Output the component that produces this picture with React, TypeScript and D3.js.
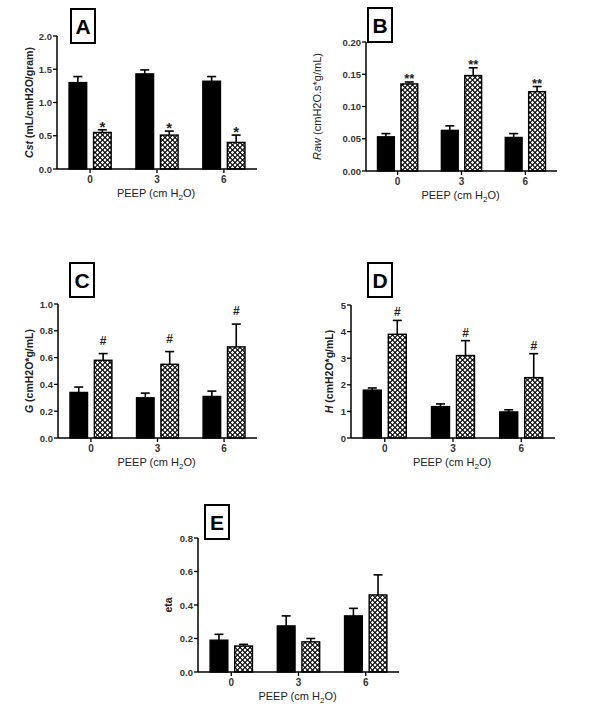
import React from 'react';
import * as d3 from 'd3';

// PEEP levels (categories)
const peep = ['0', '3', '6'];
const series = ['ctrl', 'treat'];

// A: Cst
const cstCtrl = [1.30, 1.43, 1.32];
const cstCtrlErr = [0.09, 0.06, 0.07];
const cstTreat = [0.55, 0.51, 0.40];
const cstTreatErr = [0.04, 0.06, 0.11];
const cstTicks = [0, 0.5, 1.0, 1.5, 2.0];

// B: Raw
const rawCtrl = [0.053, 0.063, 0.052];
const rawCtrlErr = [0.005, 0.007, 0.006];
const rawTreat = [0.135, 0.148, 0.123];
const rawTreatErr = [0.003, 0.012, 0.008];
const rawTicks = [0, 0.05, 0.10, 0.15, 0.20];

// C: G
const gCtrl = [0.34, 0.30, 0.31];
const gCtrlErr = [0.04, 0.035, 0.04];
const gTreat = [0.58, 0.55, 0.68];
const gTreatErr = [0.05, 0.095, 0.17];
const gTicks = [0, 0.2, 0.4, 0.6, 0.8, 1.0];

// D: H
const hCtrl = [1.80, 1.18, 0.98];
const hCtrlErr = [0.08, 0.10, 0.08];
const hTreat = [3.90, 3.10, 2.27];
const hTreatErr = [0.52, 0.56, 0.90];
const hTicks = [0, 1, 2, 3, 4, 5];

// E: eta
const etaCtrl = [0.19, 0.275, 0.335];
const etaCtrlErr = [0.035, 0.06, 0.045];
const etaTreat = [0.155, 0.18, 0.46];
const etaTreatErr = [0.01, 0.02, 0.12];
const etaTicks = [0, 0.2, 0.4, 0.6, 0.8];

const font = '"Liberation Sans", Arial, sans-serif';

type PanelCfg = {
  letter: string;
  x0: number; x1: number; yTop: number; yBot: number;
  ticks: number[]; fmt: (n: number) => string;
  ctrl: number[]; ctrlErr: number[]; treat: number[]; treatErr: number[];
  mark: string; markSize: number; markOffset: number;
  yItalic: string; yRest: string; yBold: boolean; yLabelX: number;
  boxX: number; boxY: number;
};

const panels: PanelCfg[] = [
  {
    letter: 'A', x0: 57, x1: 257, yTop: 36, yBot: 169,
    ticks: cstTicks, fmt: d3.format('.1f'),
    ctrl: cstCtrl, ctrlErr: cstCtrlErr, treat: cstTreat, treatErr: cstTreatErr,
    mark: '*', markSize: 15, markOffset: 2,
    yItalic: 'Cst', yRest: ' (mL/cmH2O/gram)', yBold: true, yLabelX: 33,
    boxX: 71, boxY: 9,
  },
  {
    letter: 'B', x0: 366, x1: 557, yTop: 42, yBot: 171,
    ticks: rawTicks, fmt: d3.format('.2f'),
    ctrl: rawCtrl, ctrlErr: rawCtrlErr, treat: rawTreat, treatErr: rawTreatErr,
    mark: '**', markSize: 13, markOffset: 1,
    yItalic: 'Raw', yRest: ' (cmH2O.s*g/mL)', yBold: false, yLabelX: 321,
    boxX: 368, boxY: 8,
  },
  {
    letter: 'C', x0: 58, x1: 257, yTop: 304, yBot: 438,
    ticks: gTicks, fmt: d3.format('.1f'),
    ctrl: gCtrl, ctrlErr: gCtrlErr, treat: gTreat, treatErr: gTreatErr,
    mark: '#', markSize: 12, markOffset: -9,
    yItalic: 'G', yRest: ' (cmH2O*g/mL)', yBold: true, yLabelX: 33,
    boxX: 70, boxY: 263,
  },
  {
    letter: 'D', x0: 351, x1: 555, yTop: 305, yBot: 438,
    ticks: hTicks, fmt: d3.format('d'),
    ctrl: hCtrl, ctrlErr: hCtrlErr, treat: hTreat, treatErr: hTreatErr,
    mark: '#', markSize: 12, markOffset: -4,
    yItalic: 'H', yRest: ' (cmH2O*g/mL)', yBold: true, yLabelX: 333,
    boxX: 368, boxY: 263,
  },
  {
    letter: 'E', x0: 198, x1: 399, yTop: 538, yBot: 672,
    ticks: etaTicks, fmt: d3.format('.1f'),
    ctrl: etaCtrl, ctrlErr: etaCtrlErr, treat: etaTreat, treatErr: etaTreatErr,
    mark: '', markSize: 11, markOffset: 0,
    yItalic: '', yRest: 'eta', yBold: true, yLabelX: 172,
    boxX: 205, boxY: 505,
  },
];

function Panel({ p }: { p: PanelCfg }) {
  const x = d3.scaleBand().domain(peep).range([p.x0, p.x1]).paddingInner(0.37).paddingOuter(0.18);
  const inner = d3.scaleBand().domain(series).range([0, x.bandwidth()]).paddingInner(0.28);
  const y = d3.scaleLinear().domain([0, p.ticks[p.ticks.length - 1]]).range([p.yBot, p.yTop]);
  const bw = inner.bandwidth();
  const cap = 4.5;

  const bars = peep.flatMap((g, i) => [
    { g, s: 'ctrl', v: p.ctrl[i], e: p.ctrlErr[i] },
    { g, s: 'treat', v: p.treat[i], e: p.treatErr[i] },
  ]);

  const midY = (p.yTop + p.yBot) / 2;

  return (
    <g>
      {/* letter box */}
      <rect x={p.boxX} y={p.boxY} width={24} height={34} fill="#fff" stroke="#000" strokeWidth={2} />
      <text x={p.boxX + 12} y={p.boxY + 25} textAnchor="middle" fontFamily={font}
        fontWeight="bold" fontSize={21}>{p.letter}</text>

      {/* bars + error bars */}
      {bars.map((b, k) => {
        const bx = (x(b.g) as number) + (inner(b.s) as number);
        const cx = bx + bw / 2;
        return (
          <g key={k}>
            <line x1={cx} x2={cx} y1={y(b.v)} y2={y(b.v + b.e)} stroke="#000" strokeWidth={1.6} />
            <line x1={cx - cap} x2={cx + cap} y1={y(b.v + b.e)} y2={y(b.v + b.e)} stroke="#000" strokeWidth={1.6} />
            <rect x={bx} y={y(b.v)} width={bw} height={p.yBot - y(b.v)}
              fill={b.s === 'ctrl' ? '#000' : 'url(#hatch)'} stroke="#000" strokeWidth={1.4} />
            {b.s === 'treat' && p.mark && (
              <text x={cx} y={y(b.v + b.e) + p.markOffset} textAnchor="middle" fontFamily={font}
                fontWeight="bold" fontSize={p.markSize} fill="#222">{p.mark}</text>
            )}
          </g>
        );
      })}

      {/* y axis */}
      <line x1={p.x0} x2={p.x0} y1={p.yTop} y2={p.yBot} stroke="#000" strokeWidth={1.5} />
      {p.ticks.map((t) => (
        <g key={t}>
          <line x1={p.x0 - 4} x2={p.x0} y1={y(t)} y2={y(t)} stroke="#000" strokeWidth={1.3} />
          <text x={p.x0 - 5} y={y(t) + 3.5} textAnchor="end" fontFamily={font} fontWeight="bold"
            fontSize={9.5} fill="#333">{p.fmt(t)}</text>
        </g>
      ))}

      {/* x axis */}
      <line x1={p.x0} x2={p.x1} y1={p.yBot} y2={p.yBot} stroke="#000" strokeWidth={1.5} />
      {peep.map((g) => {
        const cx = (x(g) as number) + x.bandwidth() / 2;
        return (
          <g key={g}>
            <line x1={cx} x2={cx} y1={p.yBot} y2={p.yBot + 4} stroke="#000" strokeWidth={1.3} />
            <text x={cx} y={p.yBot + 14} textAnchor="middle" fontFamily={font} fontWeight="bold"
              fontSize={10} fill="#333">{g}</text>
          </g>
        );
      })}

      {/* axis titles */}
      <text transform={`translate(${p.yLabelX},${midY}) rotate(-90)`} textAnchor="middle"
        fontFamily={font} fontWeight={p.yBold ? 'bold' : 'normal'} fontSize={p.yBold ? 10.5 : 11} fill="#222">
        {p.yItalic && <tspan fontStyle="italic">{p.yItalic}</tspan>}
        <tspan>{p.yRest}</tspan>
      </text>
      <text x={(p.x0 + p.x1) / 2 - 1} y={p.yBot + 28} textAnchor="middle" fontFamily={font}
        fontSize={11} fill="#222">
        PEEP (cm H<tspan fontSize={8} dy={3}>2</tspan><tspan dy={-3}>O)</tspan>
      </text>
    </g>
  );
}

export default function App() {
  return (
    <svg width={600} height={727} style={{ position: 'absolute', left: 0, top: 0, background: '#fff' }}>
      <defs>
        <pattern id="hatch" width={5} height={5} patternUnits="userSpaceOnUse">
          <rect width={5} height={5} fill="#000" />
          <path d="M2.5,0.8 L4.2,2.5 L2.5,4.2 L0.8,2.5 Z" fill="#fff" />
          <path d="M0,-1.7 L1.7,0 L0,1.7 L-1.7,0 Z M5,-1.7 L6.7,0 L5,1.7 L3.3,0 Z M0,3.3 L1.7,5 L0,6.7 L-1.7,5 Z M5,3.3 L6.7,5 L5,6.7 L3.3,5 Z" fill="#fff" />
        </pattern>
      </defs>
      <rect width={600} height={727} fill="#fff" />
      {panels.map((p) => <Panel key={p.letter} p={p} />)}
    </svg>
  );
}
